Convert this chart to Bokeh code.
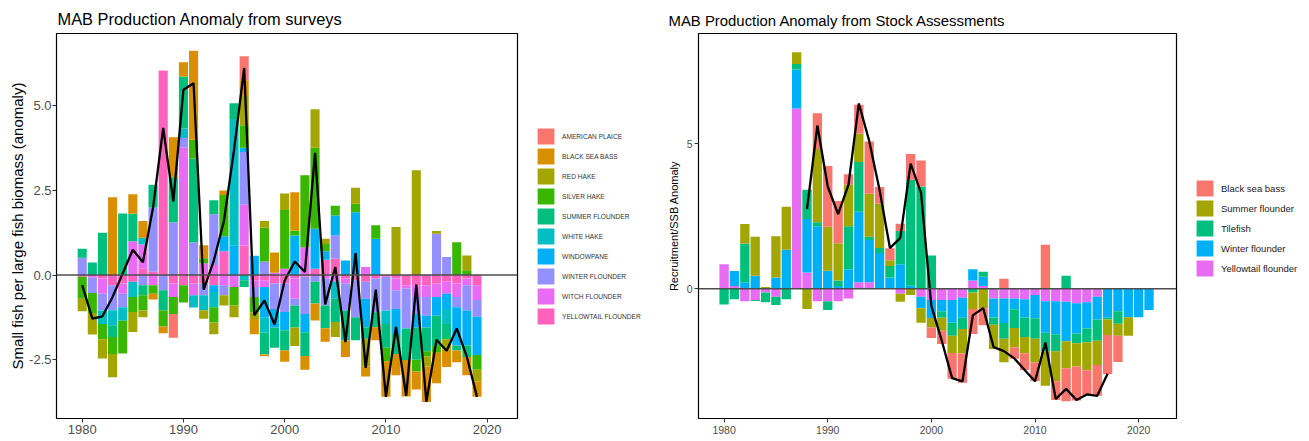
import numpy as np
from bokeh.plotting import figure
from bokeh.models import (ColumnDataSource, Legend, LegendItem, Span, Range1d,
                          FixedTicker, NumeralTickFormatter)
from bokeh.layouts import row
from bokeh.embed import file_html
from bokeh.resources import INLINE

FONT = "Liberation Sans"

# ---------------- Left panel: survey-based anomaly ----------------
years_s = list(range(1980, 2020))
species_s = ["AMERICAN PLAICE", "BLACK SEA BASS", "RED HAKE", "SILVER HAKE",
             "SUMMER FLOUNDER", "WHITE HAKE", "WINDOWPANE", "WINTER FLOUNDER",
             "WITCH FLOUNDER", "YELLOWTAIL FLOUNDER"]
colors_s = ["#F8766D", "#D89000", "#A3A500", "#39B600", "#00BF7D",
            "#00BFC4", "#00B0F6", "#9590FF", "#E76BF3", "#FF62BC"]

american_plaice = [0, 0, 0, 0, 0, 0, 0, 0, 0, -0.7,
                   0, 0, 0, 0, 0, 0, 0.72, 0, 0, 0,
                   0, 0, 0, 0, 0, 0, 0, 0, 0, 0,
                   0, 0, 0, 0, 0, 0, 0, 0, 0, 0]
black_sea_bass = [0, 0, 0, 2.3, 0, 0.58, 0.5, -0.17, -0.2, 1.18,
                  0.42, 2.63, 0.38, 0, 0.13, 0, 0.46, -0.45, -0.05, 0.6,
                  -0.33, 1.13, -0.41, -0.5, -0.4, 0, -0.49, 0, -0.29, -0.39,
                  -1.05, -0.63, -1.08, -0.53, -1.05, -0.9, -0.52, -0.35, -0.54, -0.45]
red_hake = [-0.37, -0.64, -0.57, -0.69, 0, -0.59, -0.2, 0, 0, 0,
            0, 0, -0.25, -0.35, -0.3, -0.35, 0.86, -0.2, 0.2, 0,
            0.49, -0.55, 0, 1.14, 0.15, -0.44, 0, 0.47, -0.83, 0,
            0, 1.42, 0, 3.1, -0.3, 0.08, -0.3, 0, 0.44, -0.35]
silver_hake = [-0.65, -0.59, -0.45, -0.5, -0.97, -0.44, -0.45, -0.25, -0.47, -0.5,
               -0.51, 0.56, 0.15, -0.45, 1.22, -0.55, 0.67, -0.45, 1.0, 0,
               1.73, 0.15, 2.13, 2.39, 0.22, 0.29, 0, 0.25, 0, 0.4,
               -0.4, 0, 0, -0.35, -0.15, -0.2, 0, 0.97, 0.14, -0.44]
summer_flounder = [0.27, 0.37, 1.25, -0.35, 1.82, 0.81, -0.3, 0.67, -0.6, 1.33,
                   1.54, 2.47, 0, 0.41, 0, 0.47, -0.2, 0, -0.65, -0.6,
                   -0.6, -0.65, -0.7, -0.64, -0.67, -0.69, -0.88, -0.68, -0.34, -0.44,
                   -0.7, -0.59, -0.93, -0.95, -0.7, -0.9, -0.45, -0.15, -0.34, 0]
white_hake = [0, 0, -0.4, -0.44, -0.4, -0.45, 0.2, 0, 0, 0,
              0.28, -0.36, -0.44, -0.45, 0, 3.73, -0.15, 0, -0.45, 0,
              0, 0, 0, 0, 0, -0.5, 0, 0, 0, 0,
              -0.4, 0, 0, 0, 0, 0, -0.45, 0, 0, 0]
windowpane = [0, 0, 0, 0, 0, 0, 0, 0, 0, 0,
              0, 0, 0, -0.2, 0.45, 0.88, 0.12, 0.57, -0.9, -0.55,
              -0.54, 1.17, -0.54, 1.18, 0.25, 0.59, 0.43, 1.86, -0.84, 1.07,
              0, -0.74, 0, -0.4, -0.35, -0.55, -0.45, -1.13, -1.03, -1.13]
winter_flounder = [0.51, -0.45, -0.5, -0.74, -0.4, 0, -0.3, 1.9, -0.45, 1.56,
                   0.27, 0.97, -0.35, 1.5, -0.3, 0, 1.56, -0.3, 0.4, -0.75,
                   -0.84, -0.2, -1.1, -0.2, -0.8, 0.69, -0.8, -1.1, -0.5, -1.0,
                   -1.0, -0.55, -1.18, -0.5, -0.55, 1.22, 0.53, -0.3, -0.75, -0.49]
witch_flounder = [0, -0.05, -0.45, 0, -0.3, 1.0, 0.7, -0.3, 0, -0.4,
                  3.78, -0.35, 0.35, 0.3, -0.3, -0.35, 1.21, -0.2, -0.2, 0.07,
                  0.19, -0.6, 0.82, 0, -0.1, -0.2, -0.15, 0, 0.24, 0,
                  0, -0.35, -0.1, -0.35, -0.35, -0.4, -0.35, -0.4, -0.2, -0.44]
yellowtail_flounder = [-0.05, -0.03, -0.1, -0.3, -0.25, -0.2, 0.2, 0.1, 6.05, -0.25,
                       -0.3, -0.25, -0.25, -0.3, 0.7, 0, 0.87, -0.15, -0.15, -0.25,
                       -0.25, -0.1, -0.05, 0.19, 0.45, 0.48, -0.1, -0.15, -0.2, -0.1,
                       -0.05, -0.1, -0.3, -0.3, -0.3, -0.25, -0.2, -0.25, -0.1, -0.3]
survey_total = [-0.30, -1.29, -1.22, -0.65, 0.05, 0.75, 0.38, 2.0, 4.35, 2.18,
                5.48, 5.67, -0.43, 0.43, 1.6, 3.7, 6.12, -1.19, -0.75, -1.46,
                -0.16, 0.40, 0.09, 3.61, -0.87, 0.24, -1.98, 0.65, -2.74, -0.43,
                -3.6, -1.53, -3.57, -0.28, -3.75, -1.91, -2.24, -1.58, -2.42, -3.6]

series_s = [american_plaice, black_sea_bass, red_hake, silver_hake, summer_flounder,
            white_hake, windowpane, winter_flounder, witch_flounder, yellowtail_flounder]

# ---------------- Right panel: stock-assessment anomaly ----------------
years_a = list(range(1980, 2022))
species_a = ["Black sea bass", "Summer flounder", "Tilefish", "Winter flounder",
             "Yellowtail flounder"]
colors_a = ["#F8766D", "#A3A500", "#00BF7D", "#00B0F6", "#E76BF3"]

a_black_sea_bass = [0, 0, 0, 0, 0, 0, 0, 0, 0, 1.23,
                    2.1, 1.45, 0.36, 1.0, 1.8, 0.57, 0.41, 0.25, 0.89, 0.9,
                    -0.36, -0.45, -0.89, -1.01, -0.86, -0.59, 0, 0.34, -0.39, -0.58,
                    -0.64, 1.51, -0.64, -1.14, -1.17, -0.87, -1.06, -1.35, -0.9, 0,
                    0, 0]
a_summer_flounder = [0, 0, 0.67, 1.34, 0.06, 1.42, 1.48, 0.4, -0.7, 2.52,
                     1.51, 1.29, 1.43, 0.98, 1.48, 1.53, 0.2, -0.28, -0.22, -0.5,
                     -0.33, -0.45, -0.59, -0.84, -0.57, -0.67, -0.84, -0.81, -0.67, -0.56,
                     -0.82, -1.18, -1.04, -0.93, -0.8, -0.97, -0.84, -0.53, -0.41, -0.64,
                     0, 0]
a_tilefish = [-0.54, -0.36, 1.34, -0.03, -0.34, -0.28, -0.36, 0.19, 1.01, 0.14,
              -0.3, 0.19, 1.48, 1.71, 0.11, 0.17, 0.39, 1.15, 3.65, 3.52,
              1.14, -0.22, -0.45, -0.39, -0.13, 0.17, -0.25, -0.54, -0.64, -0.67,
              -0.7, -0.64, -0.58, 0.45, -0.34, -0.47, -0.73, -0.06, -0.43, 0,
              0, 0]
a_winter_flounder = [0, 0.52, 0.22, 0.45, 0, 0.39, 1.34, 1.34, 1.84, 2.15,
                     0.62, 0.09, 0.67, 2.43, 1.46, 1.23, 0.39, 0.84, 0.1, -0.39,
                     -0.62, -0.39, -0.78, -0.69, 0.39, 0.32, -0.65, -0.84, -0.37, -0.63,
                     -0.8, -1.09, -1.14, -1.36, -1.04, -0.9, -0.78, -1.0, -0.78, -0.98,
                     -0.98, -0.73]
a_yellowtail_flounder = [0.84, 0.09, -0.43, -0.39, -0.13, -0.28, 0, 6.21, 0.56, -0.43,
                         -0.43, -0.43, -0.34, 0.22, 0.22, 0, 0, -0.17, 0, -0.28,
                         -0.39, -0.39, -0.39, -0.31, 0.28, 0.09, -0.34, -0.34, -0.34, -0.36,
                         -0.22, -0.43, -0.43, -0.45, -0.5, -0.47, -0.28, 0, 0, 0,
                         0, 0]
years_line_a = list(range(1988, 2018))
assess_total = [2.74, 5.62, 3.52, 2.57, 3.58, 6.38, 5.09, 3.4, 1.40, 1.75,
                4.31, 3.3, -0.6, -1.79, -3.08, -3.19, -0.92, -0.67, -2.01, -2.15,
                -2.4, -2.8, -3.19, -1.85, -3.8, -3.45, -3.83, -3.64, -3.69, -2.93]

series_a = [a_black_sea_bass, a_summer_flounder, a_tilefish, a_winter_flounder,
            a_yellowtail_flounder]


def make_source(years, series):
    keys = ["s%d" % i for i in range(len(series))]
    data = {"year": years}
    for k, vals in zip(keys, series):
        a = np.array(vals, dtype=float)
        data[k + "_p"] = np.clip(a, 0, None)
        data[k + "_n"] = np.clip(a, None, 0)
    return keys, ColumnDataSource(data)


def build_panel(keys, src, colors, line_years, line_vals, *,
                width, height, borders, xr, yr, yticks, yfmt, title, title_size,
                title_offset, title_standoff, ylabel, ylabel_size, ylabel_standoff,
                tick_size, ytick_standoff, xtick_standoff):
    p = figure(width=width, height=height, output_backend="svg",
               toolbar_location=None, x_range=Range1d(*xr), y_range=Range1d(*yr),
               min_border_left=borders[0], min_border_right=borders[1],
               min_border_top=borders[2], min_border_bottom=borders[3])
    p.title.text = title
    p.title.text_font = FONT
    p.title.text_font_size = title_size
    p.title.text_font_style = "normal"
    p.title.text_color = "black"
    p.title.offset = title_offset
    p.title.standoff = title_standoff

    order = list(range(len(keys)))[::-1]   # first level on top of stack
    p.vbar_stack([keys[i] + "_p" for i in order], x="year", width=0.9,
                 fill_color=[colors[i] for i in order], line_color=None, source=src)
    p.vbar_stack([keys[i] + "_n" for i in order], x="year", width=0.9,
                 fill_color=[colors[i] for i in order], line_color=None, source=src)
    zero = Span(location=0, dimension="width", line_color="#4d4d4d",
                line_width=1.6, level="glyph")
    p.add_layout(zero)
    p.line(x=line_years, y=line_vals, line_color="black", line_width=2.3)

    p.xgrid.grid_line_color = None
    p.ygrid.grid_line_color = None
    p.outline_line_color = "black"
    p.outline_line_width = 1.2
    p.outline_line_alpha = 1
    for ax in (p.xaxis[0], p.yaxis[0]):
        ax.axis_line_color = None
        ax.major_tick_line_color = "#333333"
        ax.major_tick_out = 4
        ax.major_tick_in = 0
        ax.minor_tick_line_color = None
        ax.major_label_text_font = FONT
        ax.major_label_text_font_size = tick_size
        ax.major_label_text_color = "#4D4D4D"
    p.yaxis[0].major_label_standoff = ytick_standoff
    p.xaxis[0].major_label_standoff = xtick_standoff
    p.xaxis[0].ticker = FixedTicker(ticks=[1980, 1990, 2000, 2010, 2020])
    p.yaxis[0].ticker = FixedTicker(ticks=yticks)
    p.yaxis[0].formatter = NumeralTickFormatter(format=yfmt)
    p.yaxis[0].axis_label = ylabel
    p.yaxis[0].axis_label_text_font = FONT
    p.yaxis[0].axis_label_text_font_size = ylabel_size
    p.yaxis[0].axis_label_text_font_style = "normal"
    p.yaxis[0].axis_label_text_color = "black"
    p.yaxis[0].axis_label_standoff = ylabel_standoff
    return p


def build_legend(keys, src, names, colors, *, width, height, loc, font_size,
                 label_color):
    # legend-only panel: its swatch renderers use the same data, kept out of view
    lf = figure(width=width, height=height, output_backend="svg",
                toolbar_location=None, x_axis_type=None, y_axis_type=None,
                x_range=Range1d(0, 1), y_range=Range1d(0, 1),
                min_border_left=0, min_border_right=0, min_border_top=0,
                min_border_bottom=0)
    lf.outline_line_color = None
    items = []
    for k, n, c in zip(keys, names, colors):
        r = lf.vbar(x="year", top=k + "_p", width=0.9, fill_color=c,
                    line_color=None, source=src)
        items.append(LegendItem(label=n, renderers=[r]))
    leg = Legend(items=items, location=loc, glyph_width=21, glyph_height=20,
                 label_height=20, spacing=0, padding=0, margin=0, label_standoff=6,
                 label_text_font=FONT, label_text_font_size=font_size,
                 label_text_color=label_color, border_line_color=None,
                 background_fill_alpha=0)
    lf.add_layout(leg)
    return lf


keys_s, src_s = make_source(years_s, series_s)
keys_a, src_a = make_source(years_a, series_a)

p1 = build_panel(keys_s, src_s, colors_s, years_s, survey_total,
                 width=519, height=440, borders=(56, 2, 33, 22),
                 xr=(1977.46, 2023.0), yr=(-4.24, 7.14), yticks=[-2.5, 0, 2.5, 5.0],
                 yfmt="0.0", title="MAB Production Anomaly from surveys",
                 title_size="16.4px", title_offset=1, title_standoff=12,
                 ylabel="Small fish per large fish biomass (anomaly)",
                 ylabel_size="15px", ylabel_standoff=0, tick_size="13px",
                 ytick_standoff=1, xtick_standoff=2)
l1 = build_legend(keys_s, src_s, species_s, colors_s, width=131, height=440,
                  loc=(16, 92), font_size="6.6px", label_color="#333333")

p2 = build_panel(keys_a, src_a, colors_a, years_line_a, assess_total,
                 width=528, height=440, borders=(48, 2, 29, 17),
                 xr=(1977.53, 2023.65), yr=(-4.47, 8.79), yticks=[-5, 0, 5],
                 yfmt="0", title="MAB Production Anomaly from Stock Assessments",
                 title_size="14.9px", title_offset=-30, title_standoff=10,
                 ylabel="Recruitment/SSB Anomaly",
                 ylabel_size="11px", ylabel_standoff=4, tick_size="10.5px",
                 ytick_standoff=2, xtick_standoff=3)
l2 = build_legend(keys_a, src_a, species_a, colors_a, width=130, height=440,
                  loc=(16, 140), font_size="9.5px", label_color="#1a1a1a")

layout = row(p1, l1, p2, l2)
open("out.html", "w").write(file_html(layout, INLINE))
